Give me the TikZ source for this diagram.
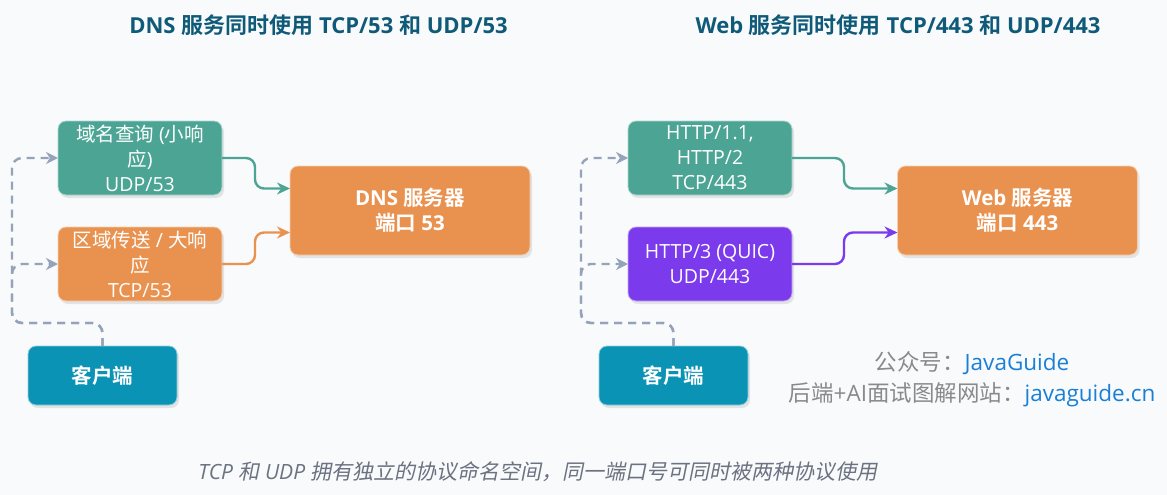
\documentclass[tikz,border=0pt]{standalone}
\usepackage{fontspec}
\setmainfont{Open Sans}
\newfontfamily\cjk{Noto Sans CJK SC}[BoldFont={Noto Sans CJK SC Bold}, ItalicFont={Noto Sans CJK SC}, ItalicFeatures={FakeSlant=0.2}]
\newcommand\zh[1]{{\cjk #1}}
\usetikzlibrary{positioning,arrows.meta,shadows}
\definecolor{bgpage}{HTML}{F8FAFC}
\definecolor{udpgreen}{HTML}{4CA594}
\definecolor{tcporange}{HTML}{E9924F}
\definecolor{quicpurple}{HTML}{7C3AED}
\definecolor{clientblue}{HTML}{0B93B5}
\definecolor{titleblue}{HTML}{0F5A78}
\definecolor{dashgray}{HTML}{94A3B8}
\definecolor{notegray}{HTML}{6B7280}
\definecolor{markgray}{HTML}{8A8A8A}
\definecolor{linkblue}{HTML}{1A7FD6}

\begin{document}
\begin{tikzpicture}[
    x=1pt, y=-1pt,
    node distance=32pt,
    proto/.style={rectangle, rounded corners=8pt, draw=white!55!#1, line width=0.8pt, fill=#1, text=white, minimum width=164pt, minimum height=74pt, align=center, inner sep=0pt, outer sep=0pt, font=\fontsize{19.5}{25}\selectfont, drop shadow={opacity=0.18, shadow xshift=2pt, shadow yshift=-3pt}},
    server/.style={proto=tcporange, minimum width=240pt, minimum height=89pt, font=\bfseries\fontsize{20.5}{25}\selectfont},
    client/.style={proto=clientblue, minimum width=149pt, minimum height=59pt, font=\bfseries\fontsize{20.5}{24}\selectfont},
    title/.style={text=titleblue, font=\bfseries\fontsize{22}{26}\selectfont},
    link/.style={-{Stealth[length=13pt,width=12pt]}, line width=2.4pt, rounded corners=9pt, draw=#1},
    reach/.style={-{Stealth[length=12pt,width=12pt]}, draw=dashgray, line width=2.4pt, dash pattern=on 8pt off 6pt, rounded corners=10pt}
]
    \useasboundingbox (0,0) rectangle (1167,495);
    \fill[bgpage] (0,0) rectangle (1167,495);

    \node[title] (dnstitle) at (318.5,25) {DNS \zh{服务同时使用} TCP/53 \zh{和} UDP/53};
    \node[title] (webtitle) at (898,25) {Web \zh{服务同时使用} TCP/443 \zh{和} UDP/443};

    \node[proto=udpgreen] (dnsudp) at (140,158) {\zh{域名查询} (\zh{小响}\\\zh{应})\\UDP/53};
    \node[proto=tcporange, below=32pt of dnsudp] (dnstcp) {\zh{区域传送} / \zh{大响}\\\zh{应}\\TCP/53};
    \node[server] (dns) at (410,210.5) {DNS \zh{服务器}\\\zh{端口} 53};
    \node[client] (dnsclient) at (102.5,375.5) {\zh{客户端}};
    \coordinate (dnsrail) at (12,323);

    \node[proto=udpgreen] (webtcp) at (710,158) {HTTP/1.1,\\HTTP/2\\TCP/443};
    \node[proto=quicpurple, below=32pt of webtcp] (webudp) {HTTP/3 (QUIC)\\UDP/443};
    \node[server] (web) at (1017.5,210.5) {Web \zh{服务器}\\\zh{端口} 443};
    \node[client] (webclient) at (673.5,375.5) {\zh{客户端}};
    \coordinate (webrail) at (581,323);

    \draw[reach] (dnsclient.north) |- (dnsrail) |- (dnsudp.west);
    \draw[reach] (dnsclient.north) |- (dnsrail) |- (dnstcp.west);
    \draw[link=udpgreen] (dnsudp.east) -- ++(33,0) |- ([yshift=22pt]dns.west);
    \draw[link=tcporange] (dnstcp.east) -- ++(33,0) |- ([yshift=-22pt]dns.west);

    \draw[reach] (webclient.north) |- (webrail) |- (webtcp.west);
    \draw[reach] (webclient.north) |- (webrail) |- (webudp.west);
    \draw[link=udpgreen] (webtcp.east) -- ++(52,0) |- ([yshift=22pt]web.west);
    \draw[link=quicpurple] (webudp.east) -- ++(52,0) |- ([yshift=-22pt]web.west);

    \node[font=\fontsize{22.5}{26}\selectfont] (account) at (972,363) {\textcolor{markgray}{\zh{公众号：}}\textcolor{linkblue}{JavaGuide}};
    \node[font=\fontsize{22.5}{26}\selectfont, below=1pt of account] (site) {\textcolor{markgray}{\zh{后端}+AI\zh{面试图解网站：}}\textcolor{linkblue}{javaguide.cn}};
    \node[text=notegray, font=\itshape\fontsize{21}{24}\selectfont] (note) at (538,472) {TCP \zh{和} UDP \zh{拥有独立的协议命名空间，同一端口号可同时被两种协议使用}};
\end{tikzpicture}
\end{document}
